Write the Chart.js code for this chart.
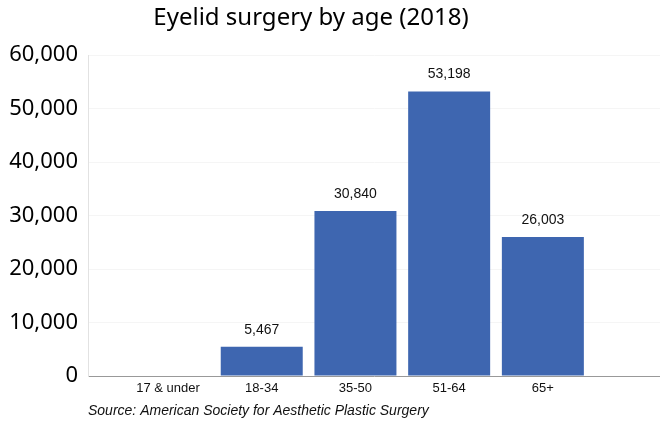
<!DOCTYPE html>
<html>
<head>
<meta charset="utf-8">
<script src="https://cdn.jsdelivr.net/npm/chart.js@4"></script>
<style>
  html, body { margin: 0; padding: 0; background: #fff; }
  #wrap { width: 660px; height: 437px; position: relative; }
</style>
</head>
<body>
<div id="wrap"><canvas id="grafik-eyelid"></canvas></div>
<script>
function $id(id) { return document.getElementById(id); }

const chartTitle = "Eyelid surgery by age (2018)";
const sourceText = "Source: American Society for Aesthetic Plastic Surgery";
const ageGroups = ["17 & under", "18-34", "35-50", "51-64", "65+"];
const procedures = [0, 5467, 30840, 53198, 26003];
const yTicks = [0, 10000, 20000, 30000, 40000, 50000, 60000];

const fmt = v => v.toLocaleString("en-US");

// title + value labels drawn on canvas
const extraText = {
    id: "extraText",
    afterDatasetsDraw(chart) {
        const ctx = chart.ctx;
        const meta = chart.getDatasetMeta(0);
        ctx.save();
        ctx.fillStyle = "#111";
        ctx.font = "14px 'Liberation Sans', Arial, sans-serif";
        ctx.textAlign = "center";
        ctx.textBaseline = "bottom";
        meta.data.forEach((bar, i) => {
            if (!procedures[i]) return;
            ctx.fillText(fmt(procedures[i]), bar.x, bar.y - 10);
        });
        ctx.font = "24px 'Noto Sans', sans-serif";
        ctx.textBaseline = "middle";
        ctx.fillStyle = "#000";
        ctx.fillText(chartTitle, 311, 18);
        ctx.restore();
    }
};

window.grafikEyelid = new Chart($id("grafik-eyelid"), {
    type: "bar",
    data: {
        datasets: [
            {
                data: ageGroups.map((g, i) => ({ x: i + 1, y: procedures[i] })),
                backgroundColor: "#3e66b0",
                borderWidth: 0,
                categoryPercentage: 1,
                barPercentage: 0.875
            }
        ]
    },
    options: {
        responsive: true,
        maintainAspectRatio: false,
        animation: false,
        layout: { padding: { top: 55, right: 0, bottom: 0, left: 0 } },
        plugins: {
            legend: { display: false },
            title: { display: false },
            tooltip: { enabled: false }
        },
        scales: {
            x: {
                type: "linear",
                offset: false,
                min: 0.146,
                max: 6.25,
                afterBuildTicks: (scale) => { scale.ticks = ageGroups.map((g, i) => ({ value: i + 1 })); },
                afterFit: (scale) => { scale.height = 61; },
                ticks: {
                    color: "#111",
                    font: { family: "'Liberation Sans', Arial, sans-serif", size: 13 },
                    padding: -3,
                    maxRotation: 0,
                    callback: (v) => ageGroups[v - 1] || ""
                },
                grid: { display: false },
                border: { color: "#999", width: 1 },
                title: {
                    display: true,
                    text: sourceText,
                    align: "start",
                    color: "#111",
                    font: { family: "'Liberation Sans', Arial, sans-serif", size: 14, style: "italic" },
                    padding: { top: 8, bottom: 17 }
                }
            },
            y: {
                min: 0,
                max: 60000,
                afterBuildTicks: (scale) => { scale.ticks = yTicks.map(v => ({ value: v })); },
                afterFit: (scale) => { scale.width = 88; },
                ticks: {
                    color: "#000",
                    font: { family: "'Noto Sans', sans-serif", size: 22 },
                    padding: 10,
                    callback: (v) => fmt(v)
                },
                grid: { color: "#f5f5f5", drawTicks: false },
                border: { color: "#e2e2e2", width: 1 }
            }
        }
    },
    plugins: [extraText]
});
</script>
</body>
</html>
